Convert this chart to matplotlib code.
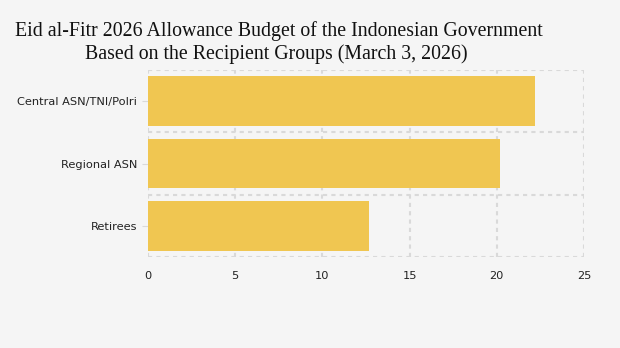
import matplotlib.pyplot as plt

# allowance budget per recipient group (trillion rupiah)
groups = ['Central ASN/TNI/Polri', 'Regional ASN', 'Retirees']
budget = [22.2, 20.2, 12.7]
xticks = [0, 5, 10, 15, 20, 25]

bg = '#f5f5f5'
bar_color = '#f0c651'
grid_color = '#d9d9d9'

fig = plt.figure(figsize=(6.2, 3.48), dpi=100, facecolor=bg)
ax = fig.add_axes([148 / 620, 1 - 257 / 348, (584 - 148) / 620, (257 - 70) / 348])
ax.set_facecolor(bg)

pos = list(range(len(groups)))
ax.barh(pos, budget, height=0.8, color=bar_color, zorder=2)

ax.set_ylim(len(groups) - 0.5, -0.5)
ax.set_xlim(0, 25)
ax.set_xticks(xticks)
ax.set_yticks(pos)
ax.set_yticklabels(groups)

# dotted grid: vertical at x ticks, horizontal at category boundaries
for x in xticks:
    ax.axvline(x, color=grid_color, lw=1.5, ls=(0, (2, 2)), zorder=1)
for b in [p - 0.5 for p in pos] + [len(groups) - 0.5]:
    ax.axhline(b, color=grid_color, lw=1.5, ls=(0, (2, 2)), zorder=1)

for s in ax.spines.values():
    s.set_visible(False)
ax.tick_params(axis='x', length=0, pad=10, labelsize=8.2, labelcolor='#222222')
ax.tick_params(axis='y', length=4, color=grid_color, pad=4, labelsize=8.2, labelcolor='#222222')

fig.text(279 / 620, 1 - 31 / 348, 'Eid al-Fitr 2026 Allowance Budget of the Indonesian Government',
         ha='center', va='center', fontsize=14.3, family='Liberation Serif', color='#111111')
fig.text(276 / 620, 1 - 54 / 348, 'Based on the Recipient Groups (March 3, 2026)',
         ha='center', va='center', fontsize=14.3, family='Liberation Serif', color='#111111')

fig.savefig('out.png', dpi=100, facecolor=bg)
